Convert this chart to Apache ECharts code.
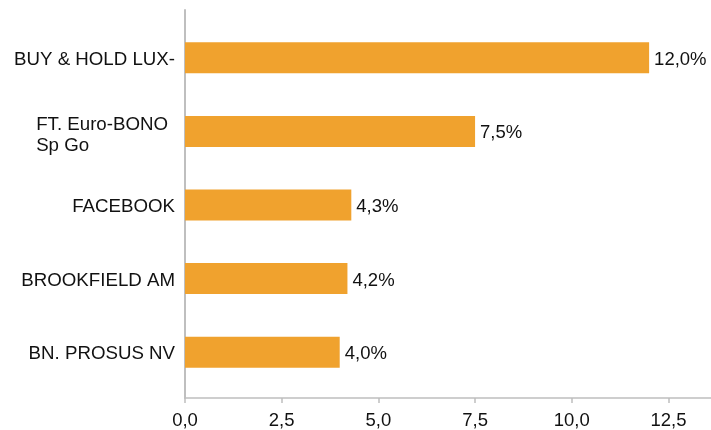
<!DOCTYPE html>
<html>
<head>
<meta charset="UTF-8">
<title></title>
<style>
    html, body { margin: 0; padding: 0; background: #fff; }
    #container { width: 711px; height: 430px; }
</style>
</head>
<body>
<div id="container"></div>
<script src="https://cdn.jsdelivr.net/npm/echarts@6/dist/echarts.min.js"></script>
<script>
    var categories = ['BUY & HOLD LUX-', 'FT. Euro-BONO\nSp Go', 'FACEBOOK', 'BROOKFIELD AM', 'BN. PROSUS NV'];
    var values = [12.0, 7.5, 4.3, 4.2, 4.0];
    var xMin = 0, xMax = 13.6, xStep = 2.5;

    function comma(v, d) {
        return v.toFixed(d).replace('.', ',');
    }

    var myChart = echarts.init(document.getElementById('container'));
    myChart.setOption({
        animation: false,
        textStyle: { fontFamily: 'Liberation Sans, Arial, sans-serif' },
        grid: [
            // axis frame
            { left: 185, right: 0, top: 10, bottom: 30 },
            // bars
            { left: 185, right: 0, top: 21, bottom: 41 }
        ],
        xAxis: [
            {
                gridIndex: 0, type: 'value', min: xMin, max: xMax, interval: xStep,
                axisLine: { show: true, lineStyle: { color: '#bfbfbf', width: 1.5 } },
                axisTick: { show: true, length: 5, lineStyle: { color: '#bfbfbf', width: 1.5 } },
                splitLine: { show: false },
                axisLabel: {
                    showMaxLabel: false, color: '#111', fontSize: 18.5, margin: 13,
                    formatter: function (v) { return comma(v, 1); }
                }
            },
            { gridIndex: 1, type: 'value', min: xMin, max: xMax, show: false }
        ],
        yAxis: [
            {
                gridIndex: 0, type: 'value', min: 0, max: 1,
                axisLine: { show: true, lineStyle: { color: '#bfbfbf', width: 2 } },
                axisTick: { show: false }, axisLabel: { show: false }, splitLine: { show: false }
            },
            {
                gridIndex: 1, type: 'category', inverse: true, data: categories,
                axisLine: { show: false }, axisTick: { show: false },
                axisLabel: {
                    color: '#111', fontSize: 18.7, margin: 10, lineHeight: 22,
                    padding: [4, 0, 0, 0],
                    formatter: function (v) {
                        if (v.indexOf('\n') < 0) return v;
                        return v.split('\n').map(function (s) { return '{l|' + s + '}'; }).join('\n');
                    },
                    rich: { l: { align: 'left', fontSize: 18.7, lineHeight: 21, color: '#111', padding: [3, 7, 0, 0] } }
                }
            }
        ],
        series: [{
            type: 'bar',
            xAxisIndex: 1, yAxisIndex: 1,
            data: values,
            barWidth: 31,
            itemStyle: { color: '#f0a22e' },
            label: {
                show: true, position: 'right', distance: 5, offset: [0, 2],
                color: '#111', fontSize: 18.5,
                formatter: function (p) { return comma(p.value, 1) + '%'; }
            }
        }]
    });
</script>
</body>
</html>
